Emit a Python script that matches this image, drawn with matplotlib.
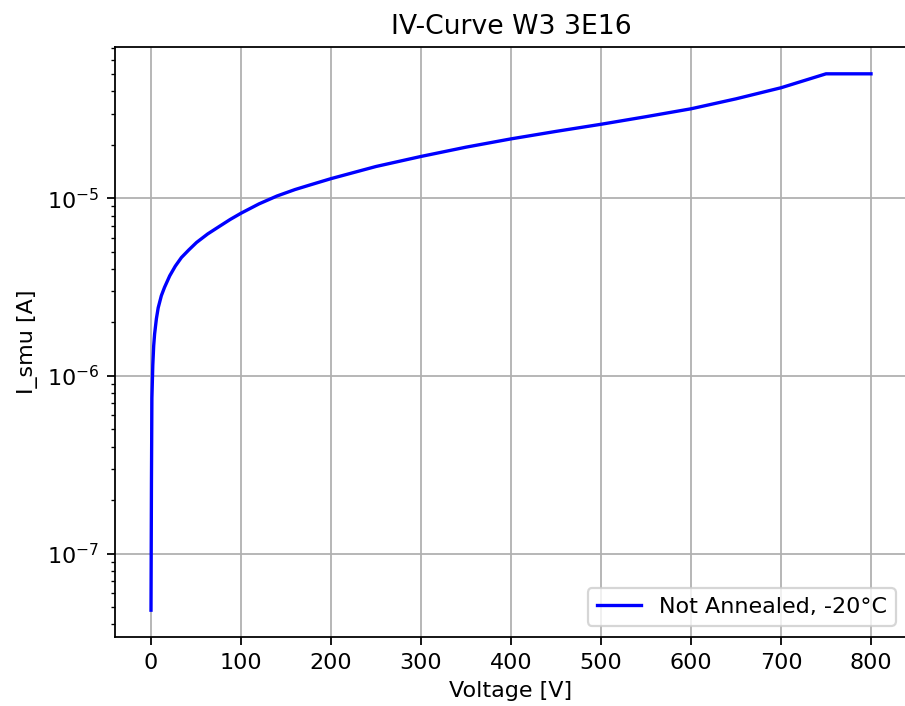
import matplotlib
matplotlib.use("Agg")
import matplotlib.pyplot as plt

voltage = [0, 0.5, 1, 2, 3, 4, 6, 8, 11.5, 15, 20.8, 27, 33.8, 42, 50.6, 63, 76.6, 88,
           100, 120, 140, 160, 177, 200, 250, 300, 350, 400, 450, 500, 550, 600, 650,
           700, 750, 760, 780, 800]
current = [4.8e-8, 2.5e-7, 7.5e-7, 1.15e-6, 1.48e-6, 1.72e-6, 2.1e-6, 2.42e-6, 2.83e-6,
           3.15e-6, 3.66e-6, 4.15e-6, 4.64e-6, 5.12e-6, 5.64e-6, 6.3e-6, 6.98e-6, 7.6e-6,
           8.24e-6, 9.3e-6, 1.03e-5, 1.12e-5, 1.19e-5, 1.29e-5, 1.51e-5, 1.72e-5, 1.94e-5,
           2.16e-5, 2.38e-5, 2.61e-5, 2.88e-5, 3.19e-5, 3.63e-5, 4.19e-5, 5.02e-5, 5.02e-5,
           5.02e-5, 5.02e-5]
label = "Not Annealed, -20°C"

W, H, DPI = 905, 706, 160
fig = plt.figure(figsize=(W / DPI, H / DPI), dpi=DPI)
ax = fig.add_axes([115 / W, 1 - 637 / H, 792 / W, 590 / H])
ax.plot(voltage, current, color="blue", label=label)
ax.set_yscale("log")
ax.set_xlabel("Voltage [V]")
ax.set_ylabel("I_smu [A]")
ax.set_title("IV-Curve W3 3E16")
ax.grid(True)
ax.spines["right"].set_visible(False)
ax.legend(loc="lower right")
fig.savefig("out.png", dpi=DPI)
